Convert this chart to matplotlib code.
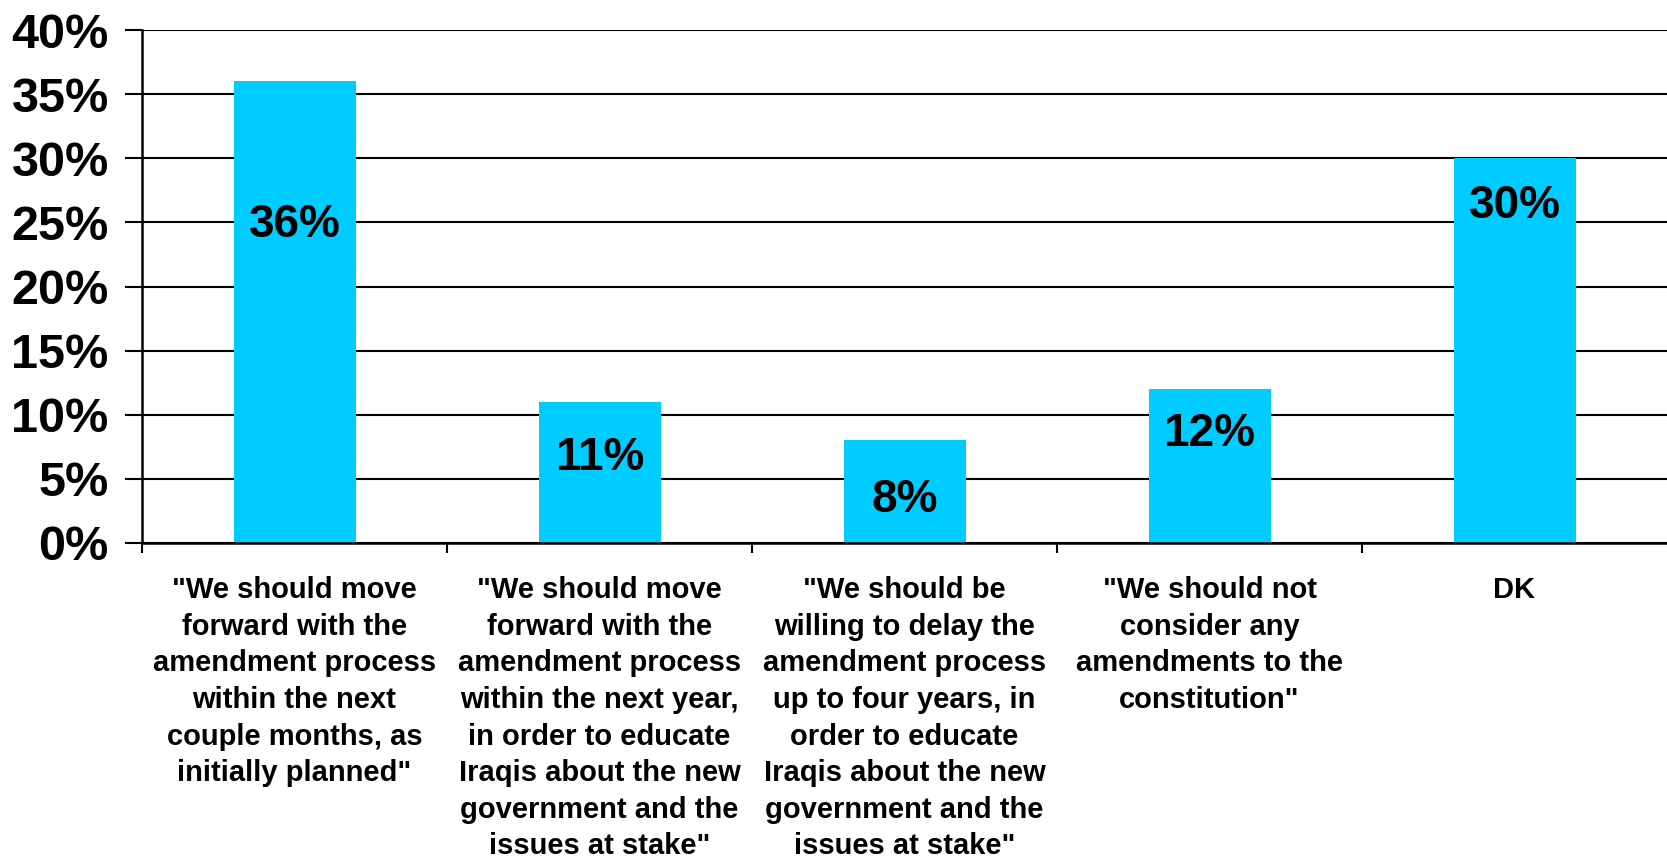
# Iraq constitution amendment poll - bar chart

import numpy as np
import matplotlib.pyplot as plt
from matplotlib.ticker import FuncFormatter

categories = [
    '"We should move\nforward with the\namendment process\nwithin the next\ncouple months, as\ninitially planned"',
    '"We should move\nforward with the\namendment process\nwithin the next year,\nin order to educate\nIraqis about the new\ngovernment and the\nissues at stake"',
    '"We should be\nwilling to delay the\namendment process\nup to four years, in\norder to educate\nIraqis about the new\ngovernment and the\nissues at stake"',
    '"We should not\nconsider any\namendments to the\nconstitution"',
    'DK',
]
values = [36, 11, 8, 12, 30]
y_ticks = [0, 5, 10, 15, 20, 25, 30, 35, 40]

BAR_COLOR = '#00CCFF'
FONT = ['Liberation Sans', 'DejaVu Sans']

fig = plt.figure(figsize=(16.67, 8.63), dpi=100)
ax = fig.add_axes([142 / 1667, 1 - 543 / 863, 1 - 142 / 1667, (543 - 30) / 863])

x = np.arange(len(values))
ax.set_axisbelow(True)
ax.yaxis.grid(True, color='black', linewidth=1.5)
bars = ax.bar(x, values, width=0.4, color=BAR_COLOR, zorder=2)

# value labels inside the bars (drop below bar top, in % units)
label_drop = [11.2, 4.35, 4.65, 3.5, 3.7]
for xi, v, d in zip(x, values, label_drop):
    ax.text(xi, v - d, f'{v}%', ha='center', va='center', fontsize=33,
            fontweight='bold', family=FONT, zorder=3)

ax.set_xlim(-0.5, len(values) - 0.5)
ax.set_ylim(0, 40)
ax.set_yticks(y_ticks)
ax.yaxis.set_major_formatter(FuncFormatter(lambda v, p: f'{v:.0f}%'))
for lab in ax.get_yticklabels():
    lab.set_fontsize(35)
    lab.set_fontweight('bold')
    lab.set_family(FONT)
ax.tick_params(axis='y', length=12, width=1.5, pad=12)

ax.set_xticks(x)
ax.set_xticklabels(categories, fontsize=21, fontweight='bold', family=FONT,
                   linespacing=1.39)
ax.tick_params(axis='x', which='major', length=0, pad=24)
ax.set_xticks(np.arange(-0.5, len(values) - 0.5), minor=True)
ax.tick_params(axis='x', which='minor', length=7, width=1.5)

for s in ['top', 'right']:
    ax.spines[s].set_visible(False)
for s in ['left', 'bottom']:
    ax.spines[s].set_linewidth(1.8)
    ax.spines[s].set_color('black')

fig.savefig('out.png', dpi=100)
